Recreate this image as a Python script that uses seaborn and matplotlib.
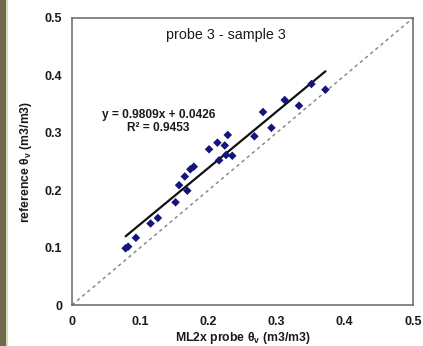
import matplotlib
matplotlib.use("Agg")
import matplotlib.pyplot as plt
import matplotlib.patches as mpatches
import numpy as np
import pandas as pd
import seaborn as sns

# ML2x probe readings vs reference volumetric water content (m3/m3)
probe_theta = [0.0786, 0.0824, 0.0937, 0.1152, 0.1259, 0.1518, 0.1570, 0.1654,
               0.1691, 0.1735, 0.1786, 0.2010, 0.2132, 0.2157, 0.2240, 0.2259,
               0.2284, 0.2350, 0.2675, 0.2801, 0.2924, 0.3119, 0.3328, 0.3511,
               0.3716]
reference_theta = [0.0988, 0.1016, 0.1171, 0.1420, 0.1516, 0.1789, 0.2087, 0.2239,
                   0.1991, 0.2364, 0.2410, 0.2713, 0.2828, 0.2521, 0.2779, 0.2613,
                   0.2962, 0.2600, 0.2939, 0.3362, 0.3087, 0.3571, 0.3472, 0.3850,
                   0.3751]

# linear trendline as reported on the chart
fit_slope = 0.9809
fit_intercept = 0.0426
fit_r2 = 0.9453

title_text = "probe 3 - sample 3"
axis_ticks = [0, 0.1, 0.2, 0.3, 0.4, 0.5]
tick_labels = ["0", "0.1", "0.2", "0.3", "0.4", "0.5"]

sns.set_theme(style="white")
plt.rcParams["font.family"] = ["Liberation Sans", "DejaVu Sans"]
plt.rcParams["mathtext.fontset"] = "custom"
plt.rcParams["mathtext.rm"] = "Liberation Sans"
plt.rcParams["mathtext.it"] = "Liberation Sans"
plt.rcParams["mathtext.bf"] = "Liberation Sans:bold"

fig = plt.figure(figsize=(4.23, 3.46), dpi=100)
fig.patch.set_facecolor("white")
ax = fig.add_axes([72 / 423, 1 - 305 / 346, (413 - 72) / 423, (305 - 18) / 346])

# decorative frame strip on the left edge
fig.patches.append(mpatches.Rectangle((0, 0), 6 / 423, 1, transform=fig.transFigure,
                                      facecolor="#6f6a4e", edgecolor="none", zorder=0))
fig.patches.append(mpatches.Rectangle((6 / 423, 0), 1.6 / 423, 1, transform=fig.transFigure,
                                      facecolor="#cfe2b2", edgecolor="none", zorder=0))

df = pd.DataFrame({"probe": probe_theta, "reference": reference_theta})

# 1:1 line
one_to_one = pd.DataFrame({"x": [0, 0.5], "y": [0, 0.5]})
sns.lineplot(data=one_to_one, x="x", y="y", ax=ax, color="#8a8a8a",
             linewidth=1.1, linestyle=(0, (2.2, 2.2)), zorder=1)

# trendline over the measured range
x_fit = np.array([min(probe_theta), max(probe_theta)])
fit_df = pd.DataFrame({"x": x_fit, "y": fit_slope * x_fit + fit_intercept})
sns.lineplot(data=fit_df, x="x", y="y", ax=ax, color="#111111", linewidth=1.6, zorder=2)

sns.scatterplot(data=df, x="probe", y="reference", ax=ax, marker="D", s=19,
                color="#14147e", edgecolor="none", zorder=3)

ax.set_xlim(0, 0.5)
ax.set_ylim(0, 0.5)
ax.set_xticks(axis_ticks)
ax.set_yticks(axis_ticks)
ax.set_xticklabels(tick_labels)
ax.set_yticklabels(tick_labels)
ax.tick_params(axis="both", direction="in", length=3.5, width=1.0, color="#666666",
               labelsize=9, labelcolor="#1a1a1a")
ax.tick_params(axis="x", pad=8)
ax.tick_params(axis="y", pad=7)
for lab in ax.get_xticklabels() + ax.get_yticklabels():
    lab.set_fontweight("bold")

for sp in ax.spines.values():
    sp.set_visible(True)
    sp.set_color("#666666")
    sp.set_linewidth(1.1)

ax.set_xlabel(r"ML2x probe θ$_\mathregular{v}$ (m3/m3)", fontsize=8.8, fontweight="bold",
              color="#1a1a1a", labelpad=1)
ax.set_ylabel(r"reference θ$_\mathregular{v}$ (m3/m3)", fontsize=8.8, fontweight="bold",
              color="#1a1a1a", labelpad=8)

ax.text(0.225, 0.470, title_text, fontsize=10.3, ha="center", va="center", color="#1a1a1a")
ax.text(0.127, 0.331, f"y = {fit_slope:.4f}x + {fit_intercept:.4f}", fontsize=8.6,
        ha="center", va="center", color="#1a1a1a", fontweight="bold")
ax.text(0.127, 0.308, f"R² = {fit_r2:.4f}", fontsize=8.6,
        ha="center", va="center", color="#1a1a1a", fontweight="bold")

fig.savefig("out.png", dpi=100, facecolor="white")
